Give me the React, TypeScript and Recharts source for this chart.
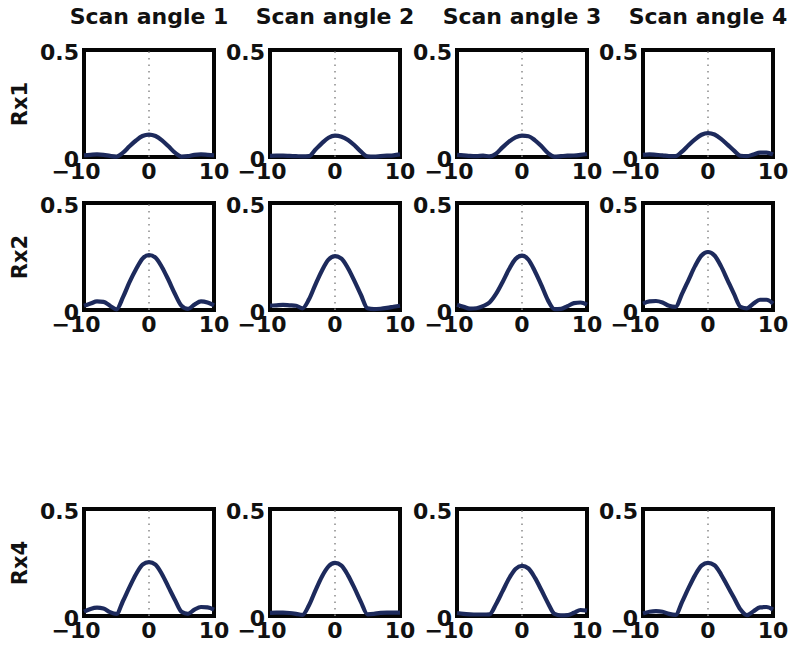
import React from 'react';
import { LineChart, Line, XAxis, YAxis, ReferenceLine, ReferenceArea } from 'recharts';

// Offset axis shared by every panel (x values of each sample)
const offsets = [-10, -9, -8, -7, -6, -5, -4, -3, -2, -1, 0, 1, 2, 3, 4, 5, 6, 7, 8, 9, 10];

const scanTitles = ['Scan angle 1', 'Scan angle 2', 'Scan angle 3', 'Scan angle 4'];
const receiverLabels = ['Rx1', 'Rx2', 'Rx4'];
const xTicks = [-10, 0, 10];
const yTicks = [0, 0.5];

// Rx1 responses, one array per scan angle
const rx1Scan1 = [0.008, 0.01, 0.012, 0.01, 0.005, 0.002, 0.02, 0.05, 0.077, 0.098, 0.105, 0.098, 0.078, 0.05, 0.02, 0.002, 0.004, 0.01, 0.012, 0.01, 0.008];
const rx1Scan2 = [0.005, 0.006, 0.006, 0.005, 0.004, 0.003, 0.004, 0.035, 0.065, 0.09, 0.1, 0.095, 0.08, 0.055, 0.025, 0.003, 0.002, 0.004, 0.006, 0.008, 0.012];
const rx1Scan3 = [0.01, 0.008, 0.005, 0.004, 0.006, 0.003, 0.015, 0.045, 0.072, 0.092, 0.1, 0.097, 0.078, 0.05, 0.018, 0.002, 0.004, 0.006, 0.007, 0.01, 0.014];
const rx1Scan4 = [0.01, 0.012, 0.01, 0.008, 0.004, 0.004, 0.025, 0.055, 0.082, 0.104, 0.112, 0.105, 0.085, 0.058, 0.03, 0.006, 0.004, 0.012, 0.02, 0.02, 0.012];

// Rx2 responses
const rx2Scan1 = [0.02, 0.03, 0.04, 0.038, 0.02, 0.003, 0.06, 0.13, 0.19, 0.24, 0.257, 0.245, 0.2, 0.14, 0.075, 0.02, 0.005, 0.025, 0.04, 0.035, 0.022];
const rx2Scan2 = [0.02, 0.022, 0.024, 0.022, 0.02, 0.008, 0.05, 0.12, 0.185, 0.235, 0.252, 0.24, 0.195, 0.135, 0.07, 0.008, 0.004, 0.006, 0.01, 0.015, 0.02];
const rx2Scan3 = [0.025, 0.015, 0.006, 0.008, 0.018, 0.035, 0.075, 0.13, 0.19, 0.238, 0.254, 0.235, 0.18, 0.115, 0.045, 0.004, 0.005, 0.018, 0.032, 0.035, 0.025];
const rx2Scan4 = [0.03, 0.04, 0.042, 0.035, 0.02, 0.015, 0.075, 0.14, 0.205, 0.255, 0.271, 0.255, 0.205, 0.14, 0.075, 0.015, 0.008, 0.03, 0.048, 0.048, 0.03];

// Rx4 responses
const rx4Scan1 = [0.02, 0.033, 0.039, 0.035, 0.018, 0.01, 0.07, 0.135, 0.195, 0.24, 0.252, 0.24, 0.195, 0.135, 0.075, 0.02, 0.01, 0.03, 0.042, 0.04, 0.03];
const rx4Scan2 = [0.015, 0.016, 0.016, 0.014, 0.01, 0.005, 0.05, 0.12, 0.185, 0.232, 0.248, 0.235, 0.19, 0.13, 0.065, 0.008, 0.01, 0.015, 0.016, 0.016, 0.016];
const rx4Scan3 = [0.014, 0.01, 0.008, 0.007, 0.007, 0.008, 0.055, 0.115, 0.175, 0.22, 0.234, 0.222, 0.178, 0.12, 0.06, 0.01, 0.003, 0.004, 0.015, 0.028, 0.025];
const rx4Scan4 = [0.012, 0.02, 0.023, 0.02, 0.01, 0.005, 0.065, 0.13, 0.19, 0.235, 0.248, 0.237, 0.195, 0.14, 0.085, 0.03, 0.004, 0.022, 0.04, 0.042, 0.03];

const panelSeries = [
  [rx1Scan1, rx1Scan2, rx1Scan3, rx1Scan4],
  [rx2Scan1, rx2Scan2, rx2Scan3, rx2Scan4],
  [rx4Scan1, rx4Scan2, rx4Scan3, rx4Scan4],
];

// Layout of the plot boxes
const BOX_LEFT = [84, 270, 457, 643];
const BOX_TOP = [50, 203, 509];
const BOX_W = 130;
const BOX_H = 107;
const Y_AXIS_W = 50;
const X_AXIS_H = 34;
const M_TOP = 10;
const M_RIGHT = 30;

const FONT = '"DejaVu Sans", Verdana, sans-serif';
const LINE_COLOR = '#1d2a5c';
const TEXT_COLOR = '#111';

const fmtNum = (v: number) => String(v).replace('-', '\u2212');

const XTick = (props: any) => {
  const { x, y, payload } = props;
  const shift = payload.value < 0 ? -8 : 0;
  return (
    <text
      x={x + shift}
      y={y}
      dy="0.73em"
      textAnchor="middle"
      fontFamily={FONT}
      fontWeight="bold"
      fontSize={22}
      fill={TEXT_COLOR}
    >
      {fmtNum(payload.value)}
    </text>
  );
};

const YTick = (props: any) => {
  const { x, y, payload } = props;
  return (
    <text
      x={x}
      y={y + 2}
      dy="0.36em"
      textAnchor="end"
      fontFamily={FONT}
      fontWeight="bold"
      fontSize={22}
      fill={TEXT_COLOR}
    >
      {fmtNum(payload.value)}
    </text>
  );
};

function Panel({ values }: { values: number[] }) {
  const data = offsets.map((x, i) => ({ x, v: values[i] }));
  return (
    <LineChart
      width={Y_AXIS_W + BOX_W + M_RIGHT}
      height={M_TOP + BOX_H + X_AXIS_H}
      data={data}
      margin={{ top: M_TOP, right: M_RIGHT, bottom: 0, left: 0 }}
      style={{ overflow: 'visible' }}
    >
      <XAxis
        dataKey="x"
        type="number"
        domain={[-10, 10]}
        ticks={xTicks}
        tick={<XTick />}
        tickLine={false}
        axisLine={false}
        tickSize={6}
        tickMargin={0}
        height={X_AXIS_H}
        interval={0}
      />
      <YAxis
        type="number"
        domain={[0, 0.5]}
        ticks={yTicks}
        tick={<YTick />}
        tickLine={false}
        axisLine={false}
        tickSize={5}
        tickMargin={0}
        width={Y_AXIS_W}
        interval={0}
      />
      <ReferenceLine
        x={0}
        stroke="#8a8a8a"
        strokeWidth={1.5}
        strokeDasharray="1.5 5"
      />
      <Line
        type="monotone"
        dataKey="v"
        stroke={LINE_COLOR}
        strokeWidth={4.2}
        dot={false}
        isAnimationActive={false}
      />
      <ReferenceArea
        x1={-10}
        x2={10}
        y1={0}
        y2={0.5}
        fill="none"
        fillOpacity={0}
        stroke="#050505"
        strokeWidth={4}
        ifOverflow="visible"
      />
    </LineChart>
  );
}

export default function App() {
  return (
    <div
      style={{
        position: 'absolute',
        left: 0,
        top: 0,
        width: 790,
        height: 654,
        background: '#fff',
        fontFamily: FONT,
      }}
    >
      {scanTitles.map((t, c) => (
        <div
          key={t}
          style={{
            position: 'absolute',
            left: BOX_LEFT[c] + BOX_W / 2 - 100,
            width: 200,
            top: 3,
            textAlign: 'center',
            fontWeight: 'bold',
            fontSize: 22,
            color: TEXT_COLOR,
            lineHeight: '28px',
            whiteSpace: 'nowrap',
          }}
        >
          {t}
        </div>
      ))}
      {receiverLabels.map((label, r) => (
        <div
          key={label}
          style={{
            position: 'absolute',
            left: 20 - 40,
            top: BOX_TOP[r] + BOX_H / 2 - 14,
            width: 80,
            height: 28,
            lineHeight: '28px',
            textAlign: 'center',
            fontWeight: 'bold',
            fontSize: 21,
            color: TEXT_COLOR,
            transform: 'rotate(-90deg)',
          }}
        >
          {label}
        </div>
      ))}
      {panelSeries.map((row, r) =>
        row.map((values, c) => (
          <div
            key={`${r}-${c}`}
            style={{
              position: 'absolute',
              left: BOX_LEFT[c] - Y_AXIS_W,
              top: BOX_TOP[r] - M_TOP,
            }}
          >
            <Panel values={values} />
          </div>
        ))
      )}
    </div>
  );
}
